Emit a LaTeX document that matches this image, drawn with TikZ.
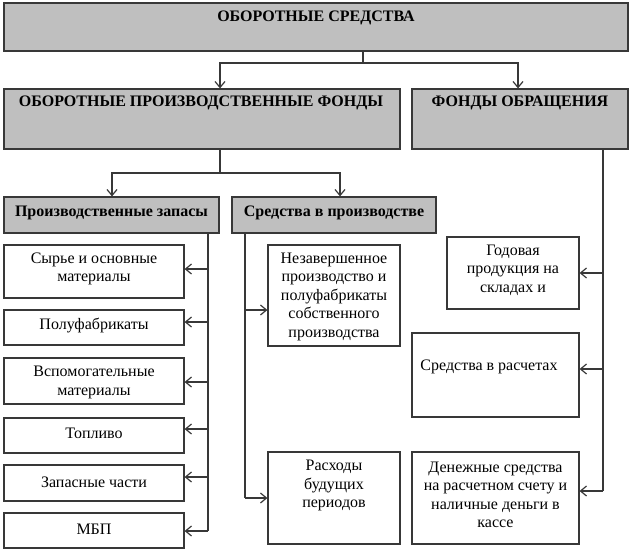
\documentclass[tikz,border=0pt]{standalone}
\usepackage{fontspec}
\setmainfont{Liberation Serif}
\usetikzlibrary{arrows.meta}
\begin{document}
\begin{tikzpicture}[x=1pt,y=-1pt,
  box/.style={draw=black!78,line width=1.2pt,inner sep=0pt,fill=white},
  gbox/.style={box,fill=black!25},
  txt/.style={inner sep=0pt,align=center,font=\fontsize{16}{18.5}\selectfont},
  btxt/.style={txt,font=\fontsize{16}{18.5}\selectfont\bfseries},
  line/.style={draw=black!78,line width=1.2pt},
  arr/.style={line,-{Straight Barb[length=6pt,width=10pt]}}]
\useasboundingbox (0,0) rectangle (633,554);
% boxes
\node[gbox,minimum width=624pt,minimum height=48pt] (top) at (316,27) {};
\node[gbox,minimum width=396pt,minimum height=60pt] (opf) at (202,119) {};
\node[gbox,minimum width=216pt,minimum height=60pt] (fo) at (520,119) {};
\node[gbox,minimum width=215pt,minimum height=36pt] (pz) at (111.5,215) {};
\node[gbox,minimum width=204pt,minimum height=36pt] (svp) at (334,215) {};
\node[box,minimum width=180pt,minimum height=53pt] (b1) at (94,271.5) {};
\node[box,minimum width=180pt,minimum height=35pt] (b2) at (94,327.5) {};
\node[box,minimum width=180pt,minimum height=46pt] (b3) at (94,381) {};
\node[box,minimum width=180pt,minimum height=35pt] (b4) at (94,435.5) {};
\node[box,minimum width=180pt,minimum height=36pt] (b5) at (94,483) {};
\node[box,minimum width=180pt,minimum height=35pt] (b6) at (94,530.5) {};
\node[box,minimum width=132pt,minimum height=101pt] (nz) at (334,295.5) {};
\node[box,minimum width=132pt,minimum height=92pt] (rb) at (334,498) {};
\node[box,minimum width=132pt,minimum height=72pt] (gp) at (513,273) {};
\node[box,minimum width=167pt,minimum height=84pt] (sr) at (495.5,375) {};
\node[box,minimum width=167pt,minimum height=92pt] (dc) at (495.5,498) {};
% texts
\node[btxt] (ttop) at (316,18) {ОБОРОТНЫЕ СРЕДСТВА};
\node[btxt] (topf) at (201,103) {ОБОРОТНЫЕ ПРОИЗВОДСТВЕННЫЕ ФОНДЫ};
\node[btxt] (tfo) at (520,103) {ФОНДЫ ОБРАЩЕНИЯ};
\node[btxt] (tpz) at (111.5,213) {Производственные запасы};
\node[btxt] (tsvp) at (334,213) {Средства в производстве};
\node[txt] (tb1) at (94,269) {Сырье и основные\\материалы};
\node[txt] (tb2) at (94,325) {Полуфабрикаты};
\node[txt] (tb3) at (94,382.5) {Вспомогательные\\материалы};
\node[txt] (tb4) at (94,433) {Топливо};
\node[txt] (tb5) at (94,482) {Запасные части};
\node[txt] (tb6) at (94,529) {МБП};
\node[txt] (tnz) at (334,296.5) {Незавершенное\\производство и\\полуфабрикаты\\собственного\\производства};
\node[txt] (trb) at (334,485.5) {Расходы\\будущих\\периодов};
\node[txt] (tgp) at (513,270) {Годовая\\продукция на\\складах и};
\node[txt] (tsr) at (489,367) {Средства в расчетах};
\node[txt] (tdc) at (495.5,495) {Денежные средства\\на расчетном счету и\\наличные деньги в\\кассе};
% junctions
\coordinate (j1) at (363,63);
\coordinate (j1l) at (220,63);
\coordinate (j1r) at (518,63);
\coordinate (j2) at (220,173);
\coordinate (j2l) at (112,173);
\coordinate (j2r) at (340,173);
\coordinate (vl) at (208,0);
\coordinate (vm) at (245,0);
\coordinate (vr) at (603,0);
\coordinate (a1) at (208,269);
\coordinate (a2) at (208,322);
\coordinate (a3) at (208,382);
\coordinate (a4) at (208,429);
\coordinate (a5) at (208,477);
\coordinate (a6) at (208,531);
\coordinate (m1) at (245,310);
\coordinate (m2) at (245,498);
\coordinate (r1) at (603,273);
\coordinate (r2) at (603,369);
\coordinate (r3) at (603,491);
% connectors
\draw[line] (top.south -| j1) -- (j1);
\draw[arr] (j1) -- (j1l) -- (opf.north -| j1l);
\draw[arr] (j1) -- (j1r) -- (fo.north -| j1r);
\draw[line] (opf.south -| j2) -- (j2);
\draw[arr] (j2) -- (j2l) -- (pz.north -| j2l);
\draw[arr] (j2) -- (j2r) -- (svp.north -| j2r);
\draw[line] (pz.south -| vl) -- (a6);
\draw[arr] (a1) -- (a1 -| b1.east);
\draw[arr] (a2) -- (a2 -| b2.east);
\draw[arr] (a3) -- (a3 -| b3.east);
\draw[arr] (a4) -- (a4 -| b4.east);
\draw[arr] (a5) -- (a5 -| b5.east);
\draw[arr] (a6) -- (a6 -| b6.east);
\draw[line] (svp.south -| vm) -- (m2);
\draw[arr] (m1) -- (m1 -| nz.west);
\draw[arr] (m2) -- (m2 -| rb.west);
\draw[line] (fo.south -| vr) -- (r3);
\draw[arr] (r1) -- (r1 -| gp.east);
\draw[arr] (r2) -- (r2 -| sr.east);
\draw[arr] (r3) -- (r3 -| dc.east);
\end{tikzpicture}
\end{document}
